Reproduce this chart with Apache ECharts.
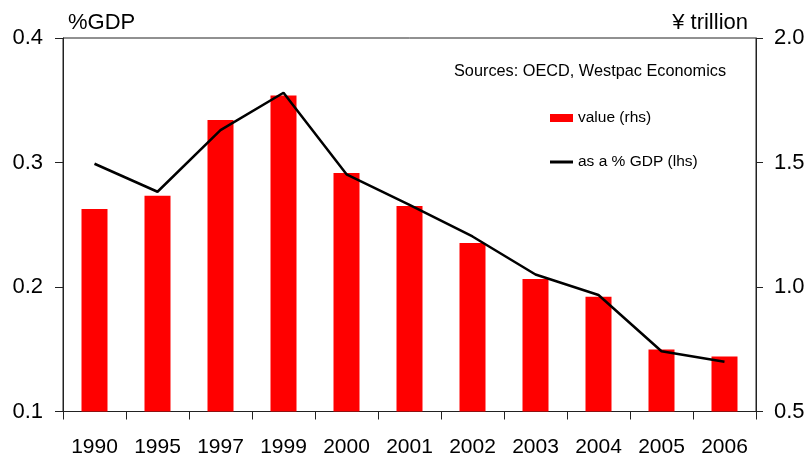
<!DOCTYPE html>
<html>
<head>
<meta charset="utf-8">
<script src="https://cdn.jsdelivr.net/npm/echarts@6/dist/echarts.min.js"></script>
<style>
html,body{margin:0;padding:0;background:#fff;}
#chart{width:809px;height:459px;}
</style>
</head>
<body>
<div id="chart"></div>
<script>
var categories = ['1990','1995','1997','1999','2000','2001','2002','2003','2004','2005','2006'];
var valueRhs = [1.313, 1.366, 1.671, 1.769, 1.458, 1.325, 1.177, 1.032, 0.961, 0.749, 0.721];
var pctGdp = [0.299, 0.2765, 0.326, 0.356, 0.2905, 0.266, 0.2406, 0.210, 0.1936, 0.1484, 0.140];
var leftTicks = [0.1, 0.4, 0.1];   // min, max, interval
var rightTicks = [0.5, 2.0, 0.5];

var FONT = 'Liberation Sans, Arial, sans-serif';
var AX = '#222';
var chart = echarts.init(document.getElementById('chart'), null, {renderer:'canvas'});
chart.setOption({
  animation: false,
  backgroundColor: '#fff',
  textStyle: {fontFamily: FONT},
  grid: {left: 63, right: 53, top: 38, bottom: 47.5, show: true, borderColor: AX, borderWidth: 1, backgroundColor: 'transparent'},
  legend: [
    {data: [{name: 'value (rhs)', icon: 'rect'}], orient: 'vertical', left: 550, top: 110, itemWidth: 23, itemHeight: 8, itemGap: 0,
     textStyle: {fontFamily: FONT, fontSize: 15.5, color: '#000'}, selectedMode: false, padding: 0},
    {data: [{name: 'as a % GDP (lhs)', icon: 'rect'}], orient: 'vertical', left: 550, top: 154, itemWidth: 23, itemHeight: 3, itemGap: 0,
     textStyle: {fontFamily: FONT, fontSize: 15.5, color: '#000'}, selectedMode: false, padding: 0}
  ],
  graphic: [
    {type: 'text', left: 68, top: 12, style: {text: '%GDP', fontFamily: FONT, fontSize: 22, fill: '#000'}},
    {type: 'text', right: 809 - 748, top: 12, style: {text: '¥ trillion', fontFamily: FONT, fontSize: 22, fill: '#000', textAlign: 'right'}},
    {type: 'text', left: 454, top: 64, style: {text: 'Sources: OECD, Westpac Economics', fontFamily: FONT, fontSize: 16.3, fill: '#000'}}
  ],
  xAxis: {
    type: 'category', data: categories, boundaryGap: true,
    axisLine: {lineStyle: {color: AX, width: 1}},
    axisTick: {show: true, length: 8, inside: false, alignWithLabel: false, lineStyle: {color: AX}},
    axisLabel: {fontFamily: FONT, fontSize: 21, color: '#000', margin: 25, interval: 0},
    splitLine: {show: false}
  },
  yAxis: [
    {type: 'value', position: 'left', min: leftTicks[0], max: leftTicks[1], interval: leftTicks[2],
     axisLine: {show: true, lineStyle: {color: AX, width: 1}},
     axisTick: {show: true, length: 8, lineStyle: {color: AX}},
     axisLabel: {fontFamily: FONT, fontSize: 22, color: '#000', margin: 20, formatter: function(v){return v.toFixed(1);}},
     splitLine: {show: false}},
    {type: 'value', position: 'right', min: rightTicks[0], max: rightTicks[1], interval: rightTicks[2],
     axisLine: {show: true, lineStyle: {color: AX, width: 1}},
     axisTick: {show: true, length: 7, lineStyle: {color: AX}},
     axisLabel: {fontFamily: FONT, fontSize: 22, color: '#000', margin: 18, formatter: function(v){return v.toFixed(1);}},
     splitLine: {show: false}}
  ],
  series: [
    {name: 'value (rhs)', type: 'bar', yAxisIndex: 1, data: valueRhs, barWidth: 26,
     itemStyle: {color: '#ff0000'}},
    {name: 'as a % GDP (lhs)', type: 'line', yAxisIndex: 0, data: pctGdp, symbol: 'none',
     lineStyle: {color: '#000', width: 2.5}, itemStyle: {color: '#000'}, z: 3}
  ]
});
</script>
</body>
</html>
